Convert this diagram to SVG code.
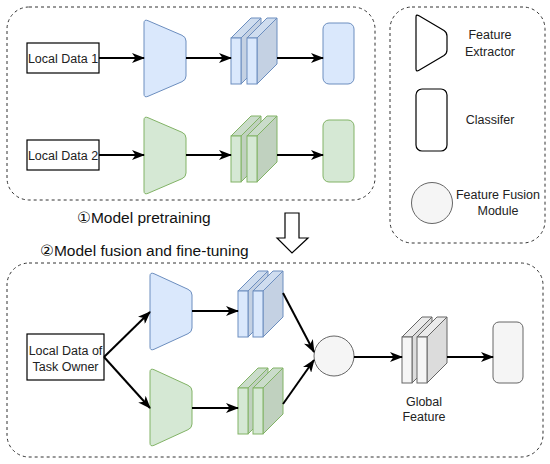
<svg xmlns="http://www.w3.org/2000/svg" width="550" height="464" viewBox="0 0 550 464">
<defs>
<marker id="ah" markerUnits="userSpaceOnUse" markerWidth="13" markerHeight="10" refX="12" refY="5" orient="auto" viewBox="0 0 13 10">
<path d="M0,0 L13,5 L0,10 L3.5,5 Z" fill="#000"/>
</marker>
<style>
.grp{fill:none;stroke:#333;stroke-width:1;stroke-dasharray:3 3}
.lbl{font-family:"Liberation Sans",Arial,sans-serif;font-size:12.5px;fill:#222}
.ttl{font-family:"Liberation Sans","DejaVu Sans",Arial,sans-serif;font-size:15.5px;fill:#111}
.box{fill:#fff;stroke:#000;stroke-width:1.2}
.edge{fill:none;stroke:#000;stroke-width:2;marker-end:url(#ah)}
.bF{fill:#dae8fc;stroke:#6c8ebf;stroke-width:1}
.bS{fill:#c4d1e3;stroke:#6c8ebf;stroke-width:1}
.bT{fill:#cfddef;stroke:#6c8ebf;stroke-width:1}
.gF{fill:#d5e8d4;stroke:#82b366;stroke-width:1}
.gS{fill:#c0d1bf;stroke:#82b366;stroke-width:1}
.gT{fill:#cadcca;stroke:#82b366;stroke-width:1}
.kF{fill:#f5f5f5;stroke:#666;stroke-width:1}
.kS{fill:#dcdcdc;stroke:#666;stroke-width:1}
.kT{fill:#ebebeb;stroke:#666;stroke-width:1}
.leg{fill:#fff;stroke:#000;stroke-width:1.2}
</style>
</defs>

<g id="groups">
<rect class="grp" x="7" y="7" width="368" height="193" rx="22"/>
<rect class="grp" x="390" y="7" width="155" height="236" rx="22"/>
<rect class="grp" x="7" y="263" width="536" height="194" rx="22"/>
</g>

<g id="titles">
<text class="ttl" x="77" y="223">①Model pretraining</text>
<text class="ttl" x="40" y="256">②Model fusion and fine-tuning</text>
<path id="bigarrow" d="M285,213 L299,213 L299,238 L308,238 L292,253 L277,238 L285,238 Z" fill="#fff" stroke="#000" stroke-width="1.2"/>
</g>

<!-- Top row: blue -->
<g id="localdata1">
<rect class="box" x="27" y="43" width="72" height="30"/>
<text class="lbl" x="63" y="62.5" text-anchor="middle">Local Data 1</text>
</g>
<g id="extractor1">
<path class="bF" d="M144,23 Q144,19 148,20.7 L182,35.3 Q186,37 186,41 L186,76 Q186,80 182,81.7 L148,96.3 Q144,98 144,94 Z"/>
</g>
<g id="feature1">
<polygon class="bT" points="231,38 251,18 261,18 241,38"/>
<polygon class="bS" points="241,38 261,18 261,64 241,84"/>
<rect class="bF" x="231" y="38" width="10" height="46"/>
<polygon class="bT" points="247,38 267,18 277,18 257,38"/>
<polygon class="bS" points="257,38 277,18 277,64 257,84"/>
<rect class="bF" x="247" y="38" width="10" height="46"/>
</g>
<g id="classifier1">
<rect class="bF" x="323" y="23" width="31" height="61" rx="6"/>
</g>

<!-- Top row: green -->
<g id="localdata2">
<rect class="box" x="27" y="140" width="72" height="30"/>
<text class="lbl" x="63" y="159.5" text-anchor="middle">Local Data 2</text>
</g>
<g id="extractor2">
<path class="gF" d="M144,120 Q144,116 148,117.7 L182,132.3 Q186,134 186,138 L186,173 Q186,177 182,178.7 L148,193.3 Q144,195 144,191 Z"/>
</g>
<g id="feature2">
<polygon class="gT" points="231,136 251,116 261,116 241,136"/>
<polygon class="gS" points="241,136 261,116 261,162 241,182"/>
<rect class="gF" x="231" y="136" width="10" height="46"/>
<polygon class="gT" points="247,136 267,116 277,116 257,136"/>
<polygon class="gS" points="257,136 277,116 277,162 257,182"/>
<rect class="gF" x="247" y="136" width="10" height="46"/>
</g>
<g id="classifier2">
<rect class="gF" x="323" y="120" width="31" height="62" rx="6"/>
</g>

<!-- Legend -->
<g id="legend-extractor">
<path class="leg" d="M416,17 Q416,14 419,15.7 L444,30.5 Q447,32.5 447,36 L447,50 Q447,53.5 444,55.5 L419,70.3 Q416,72 416,69 Z"/>
<text class="lbl" x="490" y="39" text-anchor="middle">Feature</text>
<text class="lbl" x="490" y="56" text-anchor="middle">Extractor</text>
</g>
<g id="legend-classifier">
<rect class="leg" x="416" y="89" width="31" height="62" rx="6"/>
<text class="lbl" x="490" y="124" text-anchor="middle">Classifer</text>
</g>
<g id="legend-fusion">
<circle class="kF" cx="432" cy="203" r="20.5"/>
<text class="lbl" x="498" y="199" text-anchor="middle">Feature Fusion</text>
<text class="lbl" x="498" y="215" text-anchor="middle">Module</text>
</g>

<!-- Bottom section -->
<g id="taskowner">
<rect class="box" x="27" y="334" width="77" height="46"/>
<text class="lbl" x="65.5" y="355" text-anchor="middle">Local Data of</text>
<text class="lbl" x="65.5" y="370.5" text-anchor="middle">Task Owner</text>
</g>
<g id="extractor3">
<path class="bF" d="M150,276 Q150,272 154,273.7 L188,289.3 Q192,291 192,295 L192,328 Q192,332 188,333.7 L154,349.3 Q150,351 150,347 Z"/>
</g>
<g id="extractor4">
<path class="gF" d="M150,372 Q150,368 154,369.7 L188,385.3 Q192,387 192,391 L192,424 Q192,428 188,429.7 L154,445.3 Q150,447 150,443 Z"/>
</g>
<g id="feature3">
<polygon class="bT" points="238,291 258,271 268,271 248,291"/>
<polygon class="bS" points="248,291 268,271 268,317 248,337"/>
<rect class="bF" x="238" y="291" width="10" height="46"/>
<polygon class="bT" points="253,291 273,271 283,271 263,291"/>
<polygon class="bS" points="263,291 283,271 283,317 263,337"/>
<rect class="bF" x="253" y="291" width="10" height="46"/>
</g>
<g id="feature4">
<polygon class="gT" points="238,388 258,368 268,368 248,388"/>
<polygon class="gS" points="248,388 268,368 268,414 248,434"/>
<rect class="gF" x="238" y="388" width="10" height="46"/>
<polygon class="gT" points="253,388 273,368 283,368 263,388"/>
<polygon class="gS" points="263,388 283,368 283,414 263,434"/>
<rect class="gF" x="253" y="388" width="10" height="46"/>
</g>
<g id="fusion">
<circle class="kF" cx="334" cy="356" r="20"/>
</g>
<g id="globalfeature">
<polygon class="kT" points="402,337 422,317 432,317 412,337"/>
<polygon class="kS" points="412,337 432,317 432,363 412,383"/>
<rect class="kF" x="402" y="337" width="10" height="46"/>
<polygon class="kT" points="417,337 437,317 447,317 427,337"/>
<polygon class="kS" points="427,337 447,317 447,363 427,383"/>
<rect class="kF" x="417" y="337" width="10" height="46"/>
<text class="lbl" x="424" y="406" text-anchor="middle">Global</text>
<text class="lbl" x="424" y="421" text-anchor="middle">Feature</text>
</g>
<g id="classifier3">
<rect class="kF" x="493" y="322" width="30" height="61" rx="6"/>
</g>

<g id="connectors">
<line class="edge" x1="99" y1="58" x2="144" y2="58"/>
<line class="edge" x1="186" y1="58" x2="231" y2="58"/>
<line class="edge" x1="277" y1="58" x2="323" y2="58"/>
<line class="edge" x1="99" y1="155" x2="144" y2="155"/>
<line class="edge" x1="186" y1="155" x2="231" y2="155"/>
<line class="edge" x1="277" y1="155" x2="323" y2="155"/>
<line class="edge" x1="104" y1="357" x2="150" y2="312"/>
<line class="edge" x1="104" y1="357" x2="150" y2="408"/>
<line class="edge" x1="192" y1="311" x2="238" y2="311"/>
<line class="edge" x1="192" y1="408" x2="238" y2="408"/>
<line class="edge" x1="283" y1="293" x2="314" y2="352"/>
<line class="edge" x1="283" y1="404" x2="314" y2="360"/>
<line class="edge" x1="354" y1="357" x2="402" y2="357"/>
<line class="edge" x1="447" y1="357" x2="493" y2="357"/>
</g>
</svg>
